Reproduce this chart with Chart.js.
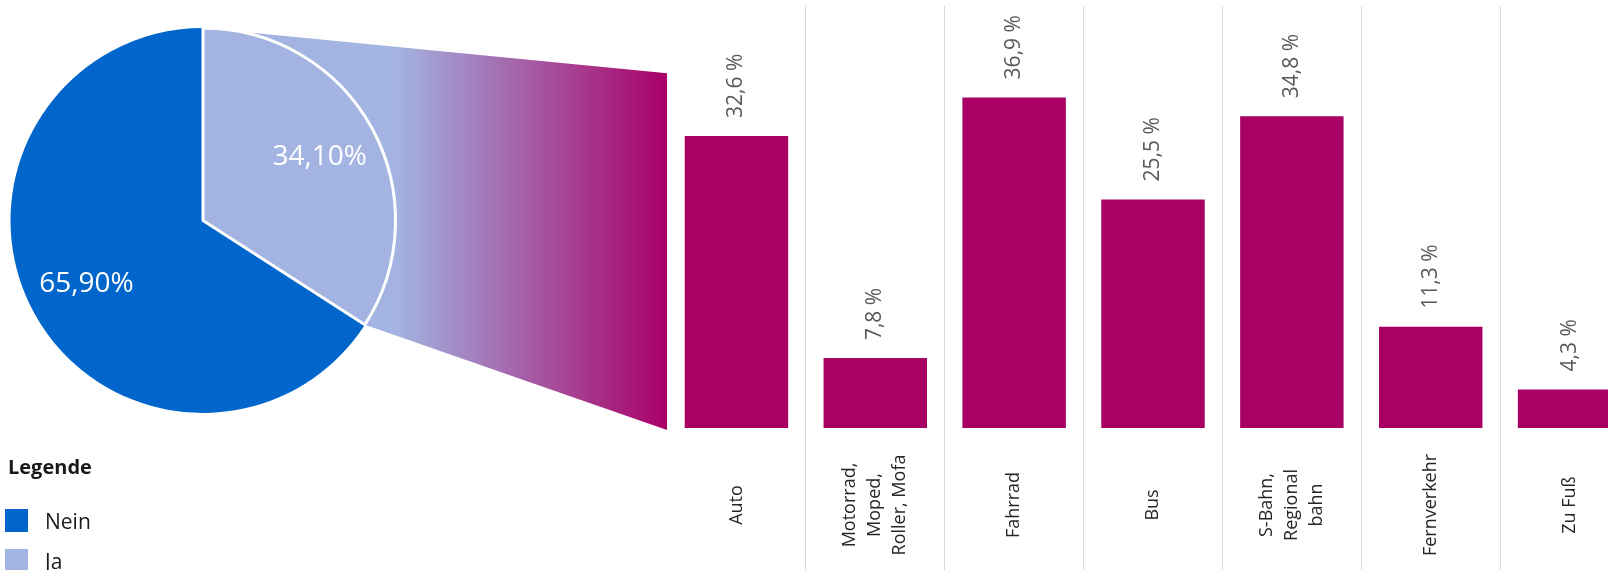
<!DOCTYPE html>
<html>
<head>
<meta charset="utf-8">
<script src="https://cdn.jsdelivr.net/npm/chart.js@4.4.1/dist/chart.umd.min.js"></script>
<style>
  body { margin: 0; background: #fff; overflow: hidden; width: 1608px; height: 570px; position: relative; font-family: "Open Sans", sans-serif; }
  #barWrap { position: absolute; left: 0; top: 0; width: 1640px; height: 570px; }
  #pieWrap { position: absolute; left: 0; top: 0; width: 672px; height: 570px; z-index: 2; }
  #legend { position: absolute; left: 0; top: 0; z-index: 3; }
  #legend .title { position: absolute; left: 8px; top: 453px; font-weight: bold; font-size: 20px; color: #1a1a1a; white-space: nowrap; }
  #legend .item { position: absolute; left: 5px; height: 24px; white-space: nowrap; }
  #legend .box { position: absolute; left: 0; top: 0; width: 23px; height: 23px; }
  #legend .txt { position: absolute; left: 40px; top: -2px; font-size: 21px; color: #1a1a1a; }
</style>
</head>
<body>
<div id="barWrap"><canvas id="barCanvas" width="1640" height="570"></canvas></div>
<div id="pieWrap"><canvas id="pieCanvas" width="672" height="570"></canvas></div>
<div id="legend"><div class="title">Legende</div></div>
<script>

/******************************************************************
DATA
******************************************************************/

var pieLabels = ["Nein", "Ja"];
var pieValues = [65.9, 34.1];
var pieText = ["65,90%", "34,10%"];
var pieColors = ["#0066cc", "#a3b4e2"];

var categories = [
  ["Auto"],
  ["Motorrad,", "Moped,", "Roller, Mofa"],
  ["Fahrrad"],
  ["Bus"],
  ["S-Bahn,", "Regional", "bahn"],
  ["Fernverkehr"],
  ["Zu Fuß"]
];
var shares = [32.6, 7.8, 36.9, 25.5, 34.8, 11.3, 4.3];
var shareText = ["32,6 %", "7,8 %", "36,9 %", "25,5 %", "34,8 %", "11,3 %", "4,3 %"];

var barColor = "#a90066";
var barChart;
var pieChart;


/******************************************************************
BAR CHART (Ja breakdown)
******************************************************************/

var barLabels = {
  id: "barLabels",
  afterDatasetsDraw: function (chart) {
    var c = chart.ctx;
    var xs = chart.scales.x;
    var meta = chart.getDatasetMeta(0);
    var midY = (xs.top + xs.bottom) / 2 + 6;

    meta.data.forEach(function (bar, i) {
      // value above the bar
      c.save();
      c.translate(bar.x, bar.y - 18);
      c.rotate(-Math.PI / 2);
      c.font = '21px "Open Sans"';
      c.fillStyle = "#595959";
      c.textAlign = "left";
      c.textBaseline = "middle";
      c.fillText(shareText[i], 0, 0);
      c.restore();

      // category name below
      var lines = categories[i];
      c.save();
      c.translate(xs.getPixelForValue(i), midY);
      c.rotate(-Math.PI / 2);
      c.font = '18px "Open Sans"';
      c.fillStyle = "#262626";
      c.textAlign = "center";
      c.textBaseline = "middle";
      lines.forEach(function (t, j) {
        c.fillText(t, 0, (j - (lines.length - 1) / 2) * 25);
      });
      c.restore();
    });
  }
};

barChart = new Chart(document.getElementById("barCanvas").getContext("2d"), {
  type: "bar",
  data: {
    labels: categories,
    datasets: [{
      data: shares,
      backgroundColor: barColor,
      barPercentage: 0.745,
      categoryPercentage: 1
    }]
  },
  options: {
    responsive: false,
    animation: false,
    layout: { padding: { left: 667, top: 6, right: 1, bottom: 0 } },
    plugins: {
      legend: { display: false },
      tooltip: { enabled: false }
    },
    scales: {
      x: {
        grid: {
          offset: true,
          tickLength: 142,
          color: function (ctx) { return ctx.index === 0 ? "rgba(0,0,0,0)" : "#d9d9d9"; }
        },
        border: { display: false },
        ticks: { display: false }
      },
      y: { display: false, min: 0, max: 47.1 }
    }
  },
  plugins: [barLabels]
}); // END BAR CHART


/******************************************************************
PIE CHART + CONNECTOR
******************************************************************/

var connector = {
  id: "connector",
  beforeDatasetsDraw: function (chart) {
    var arc = chart.getDatasetMeta(0).data[1];
    var area = barChart.chartArea;
    var ys = barChart.scales.y;
    var c = chart.ctx;
    var r = arc.outerRadius;
    var topX = arc.x + r * Math.cos(arc.startAngle);
    var topY = arc.y + r * Math.sin(arc.startAngle);
    var botX = arc.x + r * Math.cos(arc.endAngle);
    var botY = arc.y + r * Math.sin(arc.endAngle);

    var g = c.createLinearGradient(arc.x + r, 0, area.left, 0);
    g.addColorStop(0, pieColors[1]);
    g.addColorStop(1, barColor);

    c.save();
    c.beginPath();
    c.moveTo(topX, topY);
    c.lineTo(area.left, ys.getPixelForValue(39.6));
    c.lineTo(area.left, area.bottom + 2);
    c.lineTo(botX, botY);
    c.closePath();
    c.fillStyle = g;
    c.fill();
    c.restore();
  }
};

var pieValueText = {
  id: "pieValueText",
  afterDatasetsDraw: function (chart) {
    var c = chart.ctx;
    c.save();
    c.font = '28px "Open Sans"';
    c.fillStyle = "#ffffff";
    c.textAlign = "center";
    c.textBaseline = "middle";
    chart.getDatasetMeta(0).data.forEach(function (arc, i) {
      var mid = (arc.startAngle + arc.endAngle) / 2;
      var d = arc.outerRadius * 0.69;
      c.fillText(pieText[i], arc.x + d * Math.cos(mid), arc.y + d * Math.sin(mid));
    });
    c.restore();
  }
};

pieChart = new Chart(document.getElementById("pieCanvas").getContext("2d"), {
  type: "pie",
  data: {
    labels: pieLabels,
    datasets: [{
      data: pieValues,
      backgroundColor: pieColors,
      borderColor: "#ffffff",
      borderWidth: [0, 3]
    }]
  },
  options: {
    responsive: false,
    animation: false,
    rotation: pieValues[1] * 3.6,
    layout: { padding: { left: 9, top: 26, right: 275, bottom: 155 } },
    plugins: {
      legend: { display: false },
      tooltip: { enabled: false }
    }
  },
  plugins: [connector, pieValueText]
}); // END PIE CHART


/******************************************************************
LEGEND
******************************************************************/

var legendBox = document.getElementById("legend");
pieChart.data.labels.forEach(function (label, i) {
  var item = document.createElement("div");
  item.className = "item";
  item.style.top = (509 + i * 40) + "px";
  item.innerHTML = '<span class="box" style="background:' + pieChart.data.datasets[0].backgroundColor[i] + '"></span>' +
                   '<span class="txt">' + label + '</span>';
  legendBox.appendChild(item);
});

</script>
</body>
</html>
